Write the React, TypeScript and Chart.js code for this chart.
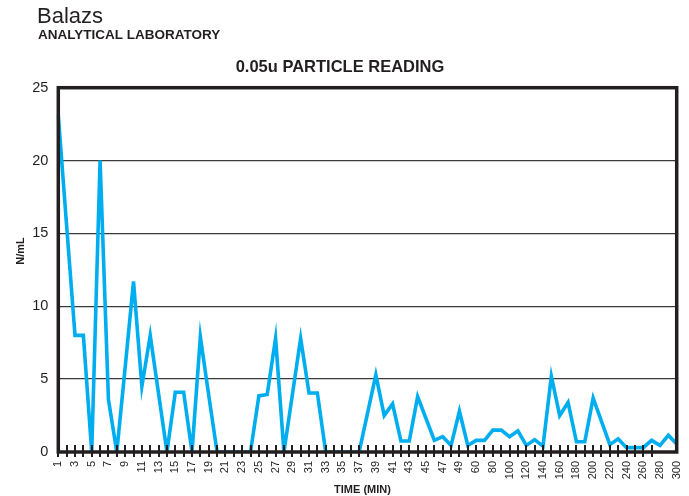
import React, { useEffect, useRef } from "react";
import { Chart, registerables } from "chart.js";

Chart.register(...registerables);

const minutes: string[] = [
  "1", "2", "3", "4", "5", "6", "7", "8", "9", "10",
  "11", "12", "13", "14", "15", "16", "17", "18", "19", "20",
  "21", "22", "23", "24", "25", "26", "27", "28", "29", "30",
  "31", "32", "33", "34", "35", "36", "37", "38", "39", "40",
  "41", "42", "43", "44", "45", "46", "47", "48", "49",
  "50", "60", "70", "80", "90", "100", "110", "120", "130", "140",
  "150", "160", "170", "180", "190", "200", "210", "220", "230", "240",
  "250", "260", "270", "280", "290", "300",
];

const readings: number[] = [
  23.1, 15.5, 8.0, 8.0, 0, 20.0, 3.6, 0, 5.8, 11.7,
  4.5, 8.0, 4.0, 0, 4.1, 4.1, 0, 7.9, 3.9, 0,
  0, 0, 0, 0, 3.85, 3.95, 7.8, 0, 3.9, 7.8,
  4.05, 4.05, 0, 0, 0, 0, 0, 2.65, 5.3, 2.5,
  3.3, 0.75, 0.75, 3.8, 2.3, 0.8, 1.05, 0.45, 2.8,
  0.45, 0.8, 0.8, 1.5, 1.5, 1.05, 1.45, 0.45, 0.85, 0.4,
  5.2, 2.5, 3.4, 0.7, 0.7, 3.7, 2.1, 0.5, 0.9, 0.3,
  0.3, 0.3, 0.8, 0.45, 1.15, 0.55,
];

const yTicks: number[] = [0, 5, 10, 15, 20, 25];

const brandText = "Balazs";
const subText = "ANALYTICAL LABORATORY";
const titleText = "0.05u PARTICLE READING";
const yTitle = "N/mL";
const xTitle = "TIME (MIN)";

const FONT = "'Liberation Sans', Arial, Helvetica, sans-serif";
const INK = "#231f20";
const LINE = "#00aeef";

const decorPlugin = {
  id: "decor",
  afterDatasetsDraw(chart: any) {
    const { ctx, chartArea, scales } = chart;
    const xs = scales.x;
    ctx.save();
    ctx.strokeStyle = INK;
    ctx.lineWidth = 2;
    const lastTick = 71;
    for (let i = 0; i <= lastTick; i++) {
      const px = Math.round(xs.getPixelForValue(i));
      ctx.beginPath();
      ctx.moveTo(px, chartArea.bottom - 7);
      ctx.lineTo(px, chartArea.bottom + 5);
      ctx.stroke();
    }
    ctx.lineWidth = 3.5;
    ctx.strokeStyle = INK;
    ctx.strokeRect(
      chartArea.left,
      chartArea.top,
      chartArea.right - chartArea.left,
      chartArea.bottom - chartArea.top
    );
    ctx.restore();
  },
  afterDraw(chart: any) {
    const { ctx, chartArea } = chart;
    ctx.save();
    ctx.fillStyle = INK;
    ctx.textBaseline = "alphabetic";
    ctx.textAlign = "left";
    ctx.font = `22px ${FONT}`;
    ctx.fillText(brandText, 37, 23);
    ctx.font = `bold 13.5px ${FONT}`;
    ctx.fillText(subText, 38, 38.5);
    ctx.textAlign = "center";
    ctx.font = `bold 16.5px ${FONT}`;
    ctx.fillText(titleText, 340, 72);
    ctx.font = `bold 11px ${FONT}`;
    ctx.fillText(xTitle, (chartArea.left + chartArea.right) / 2 - 5, 493);
    ctx.translate(24, 251);
    ctx.rotate(-Math.PI / 2);
    ctx.fillText(yTitle, 0, 0);
    ctx.restore();
  },
};

export default function App() {
  const ref = useRef<HTMLCanvasElement | null>(null);

  useEffect(() => {
    if (!ref.current) return;
    const chart = new Chart(ref.current, {
      type: "line",
      data: {
        labels: minutes,
        datasets: [
          {
            data: readings,
            borderColor: LINE,
            backgroundColor: LINE,
            borderWidth: 3.6,
            pointRadius: 0,
            tension: 0,
            fill: false,
            borderJoinStyle: "miter",
          },
        ],
      },
      options: {
        responsive: false,
        animation: false,
        layout: { padding: { left: 0, right: 12.3, top: 87.7, bottom: 0 } },
        plugins: {
          legend: { display: false },
          title: { display: false },
          tooltip: { enabled: false },
        },
        scales: {
          x: {
            type: "category",
            offset: false,
            grid: { display: false, drawTicks: false },
            border: { display: false },
            ticks: {
              autoSkip: false,
              minRotation: 90,
              maxRotation: 90,
              padding: 9,
              color: INK,
              font: { family: FONT, size: 11 },
              callback: (_v: any, i: number) => (i % 2 === 0 ? minutes[i] : ""),
            },
            afterFit: (s: any) => {
              s.height = 44;
              s.paddingLeft = 0;
              s.paddingRight = 0;
            },
          },
          y: {
            min: 0,
            max: 25,
            afterBuildTicks: (s: any) => {
              s.ticks = yTicks.map((v) => ({ value: v }));
            },
            grid: { color: "#3a3a3a", lineWidth: 1.3, drawTicks: false },
            border: { display: false },
            ticks: {
              padding: 10,
              color: INK,
              font: { family: FONT, size: 14.5 },
            },
            afterFit: (s: any) => {
              s.width = 58.3;
              s.paddingTop = 0;
              s.paddingBottom = 0;
            },
          },
        },
      },
      plugins: [decorPlugin],
    } as any);
    return () => chart.destroy();
  }, []);

  return (
    <div style={{ position: "fixed", left: 0, top: 0, width: 689, height: 496, background: "#fff" }}>
      <canvas ref={ref} width={689} height={496} style={{ display: "block" }} />
    </div>
  );
}
